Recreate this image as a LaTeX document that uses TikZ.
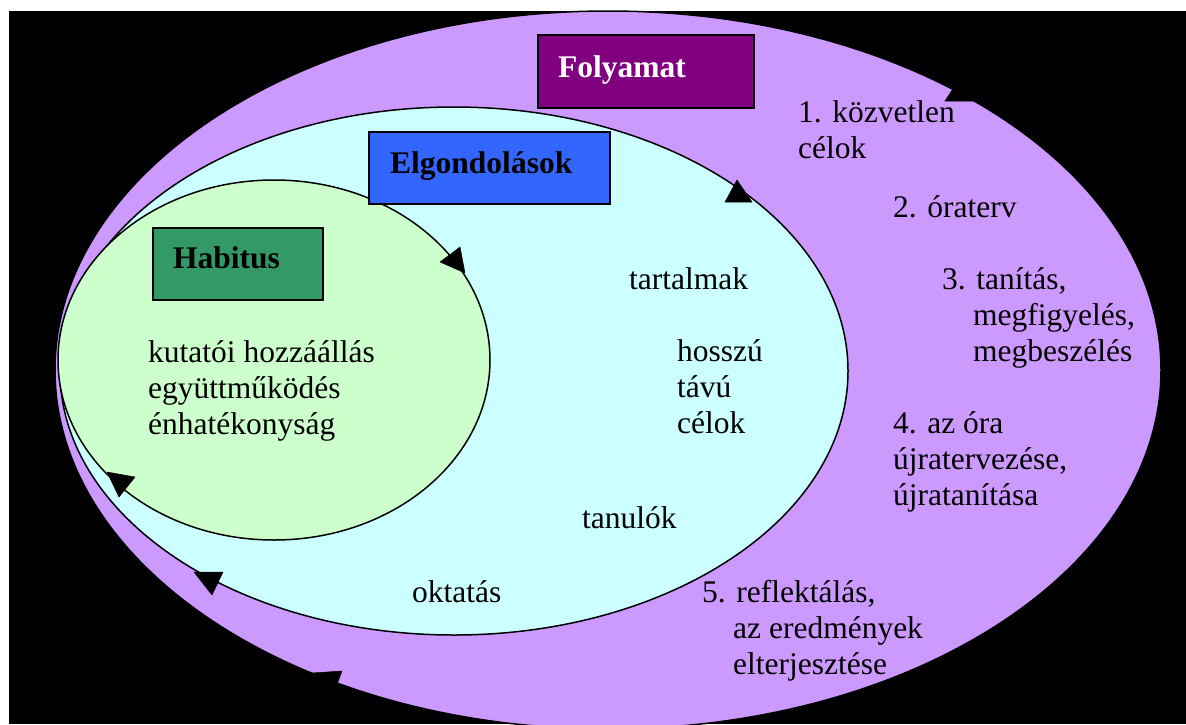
\documentclass[tikz,border=0pt]{standalone}
\usepackage{fontspec}
\setmainfont{Liberation Serif}
\usetikzlibrary{shapes.geometric}
\definecolor{bgblack}{HTML}{000000}
\definecolor{folyfill}{HTML}{CC99FF}
\definecolor{elgfill}{HTML}{CCFFFF}
\definecolor{habfill}{HTML}{CCFFCC}
\definecolor{folybox}{HTML}{800080}
\definecolor{elgbox}{HTML}{3366FF}
\definecolor{habbox}{HTML}{339966}
\tikzset{
  ring/.style={ellipse, inner sep=0pt, line width=1.5pt},
  labelbox/.style={draw=black, line width=1.8pt, inner sep=0pt, anchor=north west},
  boxtext/.style={font=\fontsize{31.5}{36}\selectfont\bfseries, anchor=base west, inner sep=0pt},
  plain/.style={font=\fontsize{31.5}{36}\selectfont, anchor=base west, inner sep=0pt, align=left},
  tip/.style={fill=black, draw=black, line width=0.5pt, line join=miter}
}
\begin{document}
\begin{tikzpicture}[x=1pt,y=-1pt]
\useasboundingbox (0,0) rectangle (1186,724);
\fill[white] (0,0) rectangle (1186,724);
\fill[bgblack] (9,11) rectangle (1186,724);
% ellipses
\node[ring, draw=black, fill=folyfill, minimum width=1106pt, minimum height=718pt] (folyamat) at (608,370) {};
\node[ring, draw=black, fill=elgfill, minimum width=788pt, minimum height=528pt] (elgondolas) at (454,371) {};
\node[ring, draw=black, fill=habfill, minimum width=432pt, minimum height=360pt] (habitus) at (274,360) {};
% label boxes
\node[labelbox, fill=folybox, minimum width=216pt, minimum height=73pt] (folybox) at (537,34) {};
\node[labelbox, fill=elgbox, minimum width=241pt, minimum height=72pt] (elgbox) at (368,131) {};
\node[labelbox, fill=habbox, minimum width=170pt, minimum height=72pt] (habbox) at (152,227) {};
\node[boxtext, text=white] (tfoly) at (558,77) {Folyamat};
\node[boxtext] (telg) at (390,173) {Elgondolások};
\node[boxtext] (thab) at (173,268) {Habitus};
% habitus text (anchor = baseline of last line)
\node[plain] (h1) at (148,434) {kutatói hozzáállás\\együttműködés\\énhatékonyság};
% elgondolasok text
\node[plain] (e1) at (629,289) {tartalmak};
\node[plain] (e2) at (677,433) {hosszú\\távú\\célok};
\node[plain] (e3) at (582,528) {tanulók};
\node[plain] (e4) at (412,602) {oktatás};
% folyamat text
\node[plain] (f1) at (798,158) {1. közvetlen\\célok};
\node[plain] (f2) at (893,217) {2. óraterv};
\node[plain] (f3) at (942,289) {3. tanítás,};
\node[plain] (f3b) at (973,361) {megfigyelés,\\megbeszélés};
\node[plain] (f4) at (893,505) {4. az óra\\újratervezése,\\újratanítása};
\node[plain] (f5) at (702,602) {5. reflektálás,};
\node[plain] (f5b) at (733,674) {az eredmények\\elterjesztése};
% arrowheads on the rings
\fill[tip] (465,273) -- (440,262) -- (460,247) -- cycle;
\fill[tip] (107,472) -- (135,477) -- (119,497) -- cycle;
\fill[tip] (725,202) -- (752,202) -- (737,180) -- cycle;
\fill[tip] (194,572) -- (223,572) -- (212,595) -- cycle;
\fill[tip] (945,101) -- (975,101) -- (960,78) -- cycle;
\fill[tip] (312,673) -- (342,671) -- (333,695) -- cycle;
\end{tikzpicture}
\end{document}
